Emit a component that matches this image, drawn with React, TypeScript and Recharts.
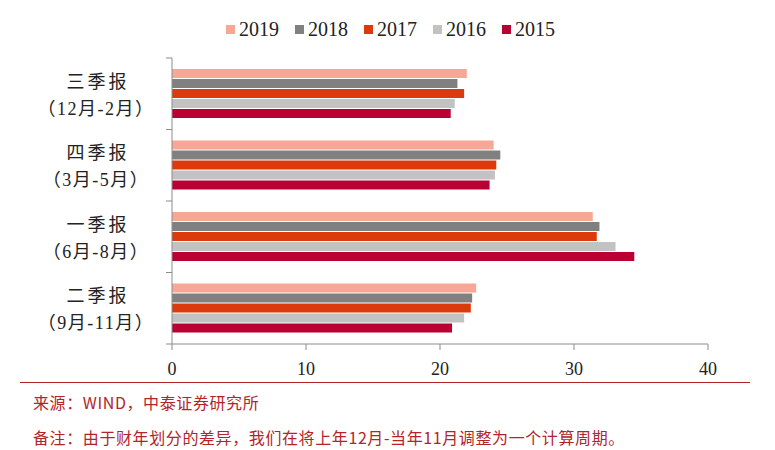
import { BarChart, Bar, XAxis, YAxis } from "recharts";

const categories = ["三季报", "四季报", "一季报", "二季报"];
const periods = ["（12月-2月）", "（3月-5月）", "（6月-8月）", "（9月-11月）"];

const y2019 = [22.0, 24.0, 31.4, 22.7];
const y2018 = [21.3, 24.5, 31.9, 22.4];
const y2017 = [21.8, 24.2, 31.7, 22.3];
const y2016 = [21.1, 24.1, 33.1, 21.8];
const y2015 = [20.8, 23.7, 34.5, 20.9];

const xTicks = [0, 10, 20, 30, 40];

const series = [
  { key: "2019", color: "#F7A796" },
  { key: "2018", color: "#808080" },
  { key: "2017", color: "#DA3A0C" },
  { key: "2016", color: "#C2C2C2" },
  { key: "2015", color: "#BA0032" },
];

const data = categories.map((name, i) => ({
  name,
  period: periods[i],
  "2019": y2019[i],
  "2018": y2018[i],
  "2017": y2017[i],
  "2016": y2016[i],
  "2015": y2015[i],
}));

const PLOT_TOP = 58;
const PLOT_BOTTOM = 344;
const HALF_BAND = (PLOT_BOTTOM - PLOT_TOP) / categories.length / 2;
const AXIS_COLOR = "#8c8c8c";
const SERIF = '"Liberation Serif", "Times New Roman", "Noto Sans CJK SC", serif';
const NOTE_RED = "#B3242A";

function CategoryTick(props: any) {
  const { x, y, payload, index } = props;
  return (
    <g>
      <text x={x - 74} y={y - 12} textAnchor="middle" dominantBaseline="central"
        fontSize={18} letterSpacing={3} fill="#222" fontFamily={SERIF}>
        {payload.value}
      </text>
      <text x={x - 76} y={y + 15} textAnchor="middle" dominantBaseline="central"
        fontSize={18} letterSpacing={1.5} fill="#222" fontFamily={SERIF}>
        {periods[index]}
      </text>
      {index === 0 && (
        <line x1={x - 6} x2={x} y1={y - HALF_BAND} y2={y - HALF_BAND} stroke={AXIS_COLOR} />
      )}
      <line x1={x - 6} x2={x} y1={y + HALF_BAND} y2={y + HALF_BAND} stroke={AXIS_COLOR} />
    </g>
  );
}

export default function App() {
  const noteStyle = {
    position: "absolute" as const,
    left: 33,
    fontSize: 16,
    letterSpacing: 0.6,
    color: NOTE_RED,
    fontFamily: '"Noto Sans CJK SC", sans-serif',
    lineHeight: "20px",
    whiteSpace: "nowrap" as const,
  };
  return (
    <div style={{ position: "absolute", left: 0, top: 0, width: 775, height: 450, background: "#fff", overflow: "hidden" }}>
      <div
        style={{
          position: "absolute",
          top: 17,
          left: 3,
          width: 775,
          display: "flex",
          justifyContent: "center",
          fontFamily: SERIF,
          fontSize: 20,
          color: "#222",
          lineHeight: "24px",
        }}
      >
        {series.map((s) => (
          <div key={s.key} style={{ display: "flex", alignItems: "center", margin: "0 8px" }}>
            <span style={{ display: "inline-block", width: 9, height: 9, background: s.color, marginRight: 4 }} />
            <span>{s.key}</span>
          </div>
        ))}
      </div>

      <BarChart
        width={775}
        height={450}
        data={data}
        layout="vertical"
        margin={{ top: PLOT_TOP, right: 67, bottom: 450 - PLOT_BOTTOM - 40, left: 0 }}
        barSize={9}
        barGap={1}
      >
        <XAxis
          type="number"
          domain={[0, 40]}
          ticks={xTicks}
          height={40}
          stroke={AXIS_COLOR}
          tickSize={6}
          tickMargin={12}
          tick={{ fill: "#222", fontSize: 18, fontFamily: SERIF }}
        />
        <YAxis
          type="category"
          dataKey="name"
          width={172}
          stroke={AXIS_COLOR}
          tickLine={false}
          tickSize={0}
          tickMargin={0}
          tick={<CategoryTick />}
          interval={0}
        />
        {series.map((s) => (
          <Bar key={s.key} dataKey={s.key} fill={s.color} isAnimationActive={false} />
        ))}
      </BarChart>

      <div style={{ position: "absolute", left: 20, top: 382, width: 730, height: 0, borderTop: `1.5px solid ${NOTE_RED}` }} />
      <div style={{ ...noteStyle, top: 392 }}>来源：WIND，中泰证券研究所</div>
      <div style={{ ...noteStyle, top: 427 }}>
        备注：由于财年划分的差异，我们在将上年12月-当年11月调整为一个计算周期。
      </div>
    </div>
  );
}
